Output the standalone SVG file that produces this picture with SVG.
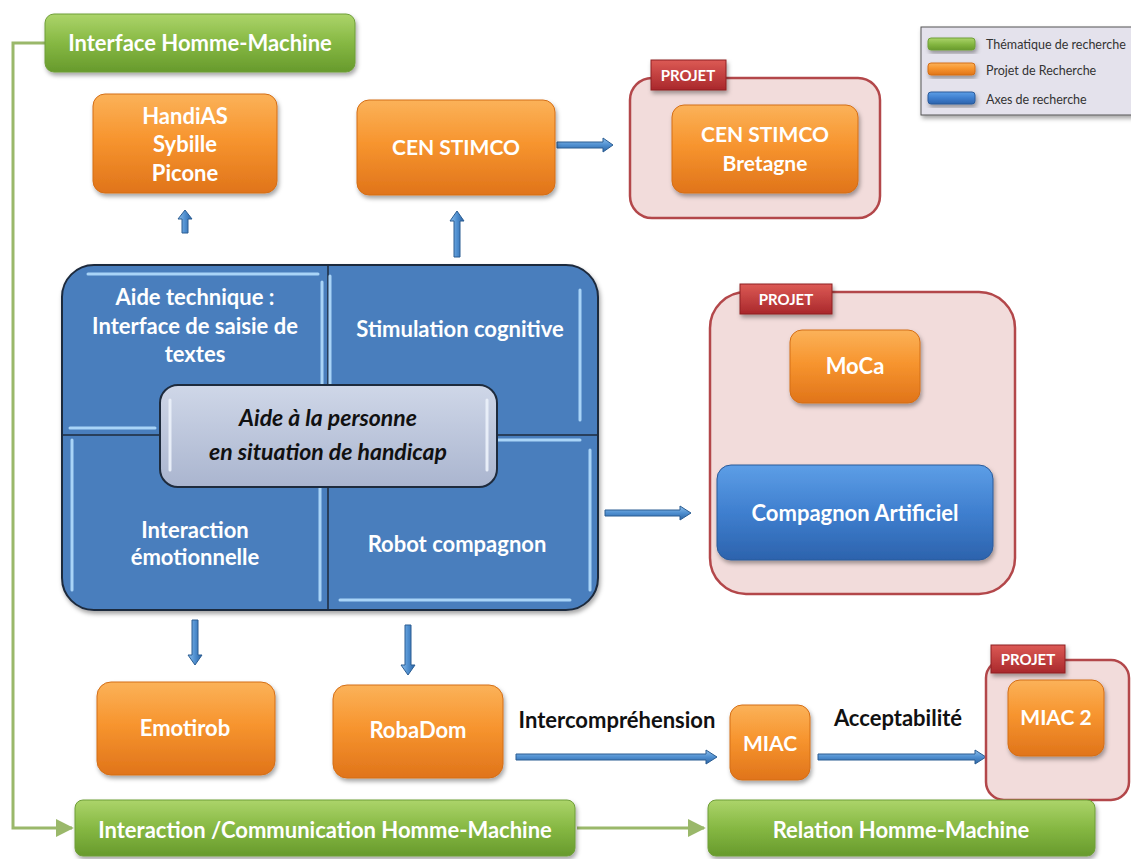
<svg xmlns="http://www.w3.org/2000/svg" width="1131" height="859" viewBox="0 0 1131 859">
<defs>
<linearGradient id="gO" x1="0" y1="0" x2="0" y2="1"><stop offset="0" stop-color="#fbb259"/><stop offset="0.45" stop-color="#f7952f"/><stop offset="1" stop-color="#e0741a"/></linearGradient>
<linearGradient id="gG" x1="0" y1="0" x2="0" y2="1"><stop offset="0" stop-color="#acd46a"/><stop offset="0.5" stop-color="#86b843"/><stop offset="1" stop-color="#679a2c"/></linearGradient>
<linearGradient id="gB" x1="0" y1="0" x2="0" y2="1"><stop offset="0" stop-color="#5d9ee6"/><stop offset="0.5" stop-color="#3f7fcf"/><stop offset="1" stop-color="#2c63ad"/></linearGradient>
<linearGradient id="gR" x1="0" y1="0" x2="0" y2="1"><stop offset="0" stop-color="#dc5a55"/><stop offset="1" stop-color="#a9282b"/></linearGradient>
<linearGradient id="gA" x1="0" y1="0" x2="0" y2="1"><stop offset="0" stop-color="#8fc0ec"/><stop offset="0.5" stop-color="#4f8fd0"/><stop offset="1" stop-color="#2c64a4"/></linearGradient>
<linearGradient id="gAv" x1="0" y1="0" x2="1" y2="0"><stop offset="0" stop-color="#8fc0ec"/><stop offset="0.5" stop-color="#4f8fd0"/><stop offset="1" stop-color="#2c64a4"/></linearGradient>
<linearGradient id="gC" x1="0" y1="0" x2="0" y2="1"><stop offset="0" stop-color="#cfd7e8"/><stop offset="1" stop-color="#aab5cf"/></linearGradient>
<filter id="sh" x="-10%" y="-10%" width="130%" height="140%"><feDropShadow dx="1.5" dy="3" stdDeviation="2" flood-color="#000" flood-opacity="0.35"/></filter>
<marker id="gArr" viewBox="0 0 10 10" refX="9" refY="5" markerWidth="6" markerHeight="6" orient="auto"><path d="M0,0 L10,5 L0,10 Z" fill="#9ab86a"/></marker>
<style>
.t{font-family:Lato,"Liberation Sans",sans-serif;font-weight:700;text-anchor:middle}
.w{fill:#fff}
.k{fill:#111}
.lg{font-family:Lato,"Liberation Sans",sans-serif;font-size:12.5px;fill:#333}
.o{fill:url(#gO);stroke:#d46e16;stroke-width:1;filter:url(#sh)}
.g{fill:url(#gG);stroke:#6f9e38;stroke-width:1;filter:url(#sh)}
.b{fill:url(#gB);stroke:#2a5a9a;stroke-width:1;filter:url(#sh)}
.p{fill:#f2dcdb;stroke:#b3474a;stroke-width:2.5}
.r{fill:url(#gR);stroke:#8e1f22;stroke-width:1;filter:url(#sh)}
.ah{fill:url(#gA);stroke:#2b5d92;stroke-width:1}
.av{fill:url(#gAv);stroke:#2b5d92;stroke-width:1}
.gl{fill:none;stroke:#9ab86a;stroke-width:3}
.hl{fill:none;stroke:#a9d4f7;stroke-width:3;stroke-linecap:round}
</style>
</defs>
<rect width="1131" height="859" fill="#fff"/>

<g id="legend">
<rect x="921" y="27" width="215" height="88" fill="#e4e2ec" stroke="#555" stroke-width="1" filter="url(#sh)"/>
<rect x="928" y="38" width="47" height="12" rx="3" class="g"/>
<rect x="928" y="63" width="47" height="12" rx="3" class="o"/>
<rect x="928" y="92" width="47" height="12" rx="3" class="b"/>
<text x="986" y="49" class="lg">Thématique de recherche</text>
<text x="986" y="75" class="lg">Projet de Recherche</text>
<text x="986" y="104" class="lg">Axes de recherche</text>
</g>

<g id="connectors">
<polyline class="gl" points="45,43 13,43 13,828 72,828" marker-end="url(#gArr)"/>
<line class="gl" x1="577" y1="828" x2="704" y2="828" stroke-width="2.5" marker-end="url(#gArr)"/>
<path class="av" d="M182,233 V219 H178 L185,210 L192,219 H188 V233 Z"/>
<path class="av" d="M454,257 V221 H450 L457,211 L464,221 H460 V257 Z"/>
<path class="av" d="M854,456 V420 H850 L857,410 L864,420 H860 V456 Z"/>
<path class="av" d="M192,620 V655 H188 L195,665 L202,655 H198 V620 Z"/>
<path class="av" d="M405,625 V665 H401 L408,675 L415,665 H411 V625 Z"/>
<path class="ah" d="M557,142 H603 V138 L613,145 L603,152 V148 H557 Z"/>
<path class="ah" d="M605,510 H680 V506 L691,513 L680,520 V516 H605 Z"/>
<path class="ah" d="M516,754 H706 V750 L717,757 L706,764 V760 H516 Z"/>
<path class="ah" d="M818,754 H975 V750 L986,757 L975,764 V760 H818 Z"/>
<text x="617" y="728" class="t k" font-size="22">Intercompréhension</text>
<text x="898" y="726" class="t k" font-size="22">Acceptabilité</text>
</g>

<g id="n-ihm">
<rect x="45" y="14" width="310" height="58" rx="9" class="g"/>
<text x="200" y="51" class="t w" font-size="22">Interface Homme-Machine</text>
</g>

<g id="n-handias">
<rect x="93" y="94" width="184" height="99" rx="12" class="o"/>
<text x="185" y="124" class="t w" font-size="22">HandiAS</text>
<text x="185" y="152" class="t w" font-size="22">Sybille</text>
<text x="185" y="181" class="t w" font-size="22">Picone</text>
</g>

<g id="n-censtimco">
<rect x="357" y="100" width="198" height="95" rx="12" class="o"/>
<text x="456" y="155" class="t w" font-size="21">CEN STIMCO</text>
</g>

<g id="p-bretagne">
<rect x="630" y="78" width="250" height="140" rx="22" class="p"/>
<rect x="651" y="60" width="75" height="30" class="r"/>
<text x="688" y="81" class="t w" font-size="15">PROJET</text>
<rect x="672" y="105" width="186" height="88" rx="12" class="o"/>
<text x="765" y="142" class="t w" font-size="21">CEN STIMCO</text>
<text x="765" y="171" class="t w" font-size="21">Bretagne</text>
</g>

<g id="n-aide">
<rect x="62" y="265" width="536" height="345" rx="32" fill="#4a7ebd" stroke="#1e2b3d" stroke-width="2" filter="url(#sh)"/>
<line x1="328" y1="266" x2="328" y2="609" stroke="#1e2b3d" stroke-width="1.5"/>
<line x1="63" y1="435" x2="597" y2="435" stroke="#1e2b3d" stroke-width="1.5"/>
<path class="hl" d="M88,274 H318 M322,282 V425 M70,428 H155 M330,276 V420 M338,440 H580 M72,440 V590 M320,440 V600 M340,600 H570 M580,290 V420 M590,450 V590"/>
<text x="195" y="305" class="t w" font-size="22">Aide technique :</text>
<text x="195" y="334" class="t w" font-size="22">Interface de saisie de</text>
<text x="195" y="362" class="t w" font-size="22">textes</text>
<text x="460" y="337" class="t w" font-size="22">Stimulation cognitive</text>
<text x="195" y="538" class="t w" font-size="22">Interaction</text>
<text x="195" y="565" class="t w" font-size="22">émotionnelle</text>
<text x="457" y="552" class="t w" font-size="22">Robot compagnon</text>
<rect x="160" y="385" width="337" height="102" rx="18" fill="url(#gC)" stroke="#1e2b3d" stroke-width="2"/>
<path d="M170,400 V470" stroke="#e8eef8" stroke-width="3" fill="none" stroke-linecap="round"/>
<path d="M487,400 V470" stroke="#e8eef8" stroke-width="3" fill="none" stroke-linecap="round"/>
<text x="328" y="426" class="t k" font-size="23" font-style="italic">Aide à la personne</text>
<text x="328" y="460" class="t k" font-size="23" font-style="italic">en situation de handicap</text>
</g>

<g id="p-moca">
<rect x="710" y="292" width="305" height="302" rx="36" class="p"/>
<rect x="740" y="284" width="92" height="30" class="r"/>
<text x="786" y="305" class="t w" font-size="15">PROJET</text>
<rect x="790" y="330" width="130" height="73" rx="12" class="o"/>
<text x="855" y="374" class="t w" font-size="22">MoCa</text>
<rect x="717" y="465" width="276" height="95" rx="14" class="b"/>
<text x="855" y="521" class="t w" font-size="22">Compagnon Artificiel</text>
</g>

<g id="n-emotirob">
<rect x="97" y="682" width="178" height="93" rx="14" class="o"/>
<text x="185" y="736" class="t w" font-size="22">Emotirob</text>
</g>

<g id="n-robadom">
<rect x="333" y="685" width="170" height="93" rx="14" class="o"/>
<text x="418" y="738" class="t w" font-size="22">RobaDom</text>
</g>

<g id="n-miac">
<rect x="730" y="705" width="80" height="75" rx="12" class="o"/>
<text x="770" y="751" class="t w" font-size="21">MIAC</text>
</g>

<g id="p-miac2">
<rect x="986" y="660" width="143" height="140" rx="18" class="p"/>
<rect x="991" y="645" width="74" height="28" class="r"/>
<text x="1028" y="665" class="t w" font-size="15">PROJET</text>
<rect x="1008" y="680" width="96" height="76" rx="12" class="o"/>
<text x="1056" y="725" class="t w" font-size="21">MIAC 2</text>
</g>

<g id="n-interaction">
<rect x="75" y="800" width="500" height="56" rx="8" class="g"/>
<text x="325" y="838" class="t w" font-size="22">Interaction /Communication Homme-Machine</text>
</g>

<g id="n-relation">
<rect x="708" y="800" width="387" height="56" rx="8" class="g"/>
<text x="901" y="838" class="t w" font-size="22">Relation Homme-Machine</text>
</g>
</svg>
